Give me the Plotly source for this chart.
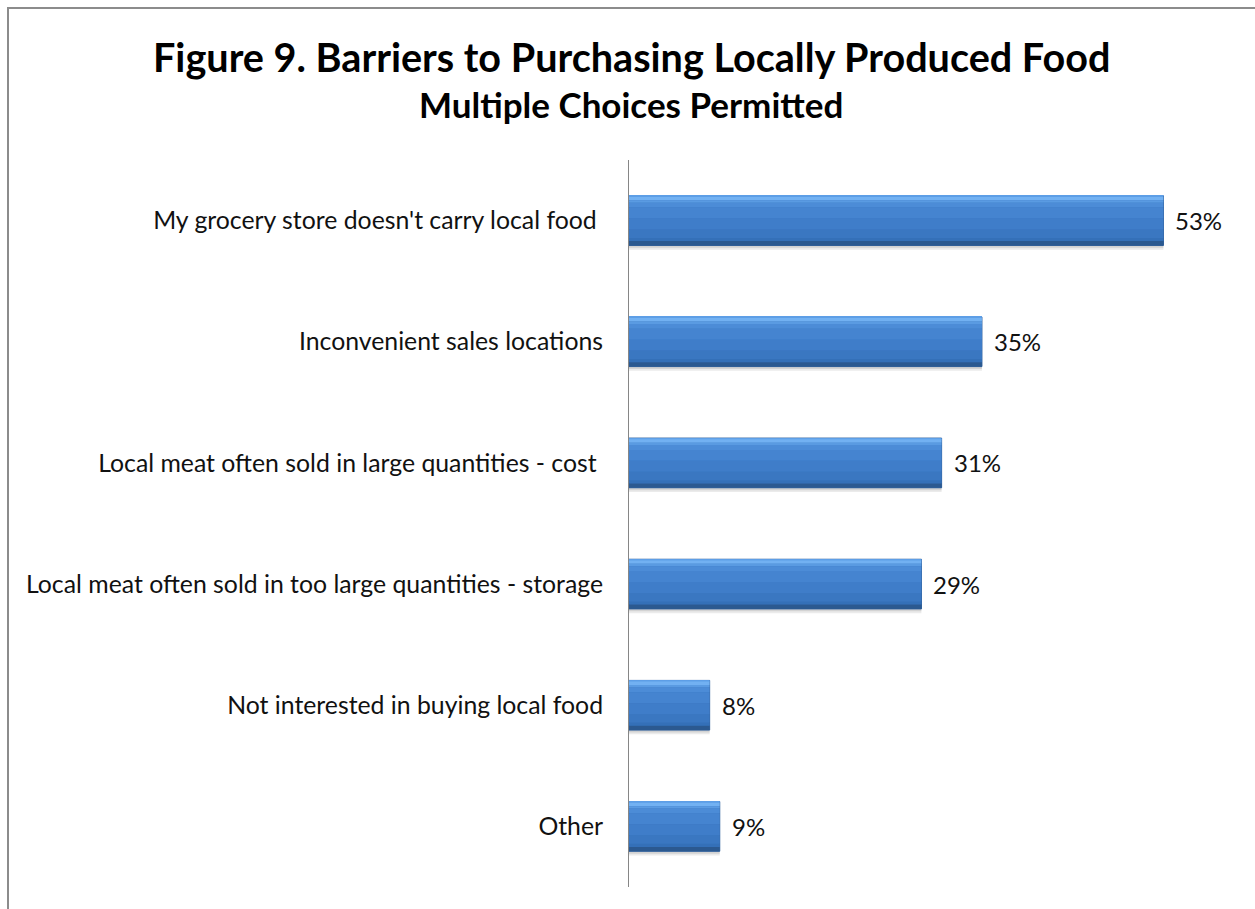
import plotly.graph_objects as go

# Survey responses (percent of respondents, multiple choices permitted)
categories = [
    "My grocery store doesn't carry local food ",
    "Inconvenient sales locations",
    "Local meat often sold in large quantities - cost ",
    "Local meat often sold in too large quantities - storage",
    "Not interested in buying local food",
    "Other",
]
values = [53, 35, 31, 29, 8, 9]
value_labels = ["53%", "35%", "31%", "29%", "8%", "9%"]

FONT = "Lato, 'Open Sans', sans-serif"
BAR_W = 0.41
top = -BAR_W / 2

fig = go.Figure()


def band(offset, width, color, line=None):
    fig.add_trace(go.Bar(
        x=values, y=categories, orientation="h",
        offset=offset, width=width,
        marker=dict(color=color, line=line or dict(width=0)),
        hoverinfo="skip", showlegend=False,
    ))


# soft drop shadow under each bar
band(top + 0.035, BAR_W, "rgba(0,0,0,0.08)")
band(top + 0.02, BAR_W, "rgba(0,0,0,0.10)")
# bar body with a bevelled, glossy look built from stacked bands
band(top, BAR_W, "#3b77c0", dict(color="#2f5f9c", width=1))
bands = [
    (0.000, 0.010, "#5d9ee6"),
    (0.010, 0.028, "#72b1f2"),
    (0.038, 0.020, "#5a9be2"),
    (0.058, 0.040, "#4c8cd7"),
    (0.098, 0.090, "#4584d0"),
    (0.188, 0.090, "#3f7dc9"),
    (0.278, 0.070, "#3a77c1"),
    (0.348, 0.026, "#3470b8"),
    (0.374, 0.036, "#2b5990"),
]
for off, w, c in bands:
    band(top + off, w, c)

for v, cat, lab in zip(values, categories, value_labels):
    fig.add_annotation(
        x=v, y=cat, text=lab, showarrow=False, xanchor="left",
        xshift=10, font=dict(family=FONT, size=24, color="#111111"),
    )

PT, PB, PL, PR = 160, 22, 629, 26
PH = 909 - PT - PB
PW = 1255 - PL - PR

# titles
fig.add_annotation(
    xref="paper", yref="paper",
    x=(631 - PL) / PW, y=(909 - PB - 57) / PH,
    xanchor="center", yanchor="middle", showarrow=False,
    text="<b>Figure 9. Barriers to Purchasing Locally Produced Food</b>",
    font=dict(family=FONT, size=39.6, color="#000000"),
)
fig.add_annotation(
    xref="paper", yref="paper",
    x=(631 - PL) / PW, y=(909 - PB - 104) / PH,
    xanchor="center", yanchor="middle", showarrow=False,
    text="<b>Multiple Choices Permitted</b>",
    font=dict(family=FONT, size=35, color="#000000"),
)

# outer frame
fig.add_shape(
    type="rect", xref="paper", yref="paper",
    x0=(8 - PL) / PW, x1=(1300 - PL) / PW,
    y0=(909 - PB - 960) / PH, y1=(909 - PB - 8) / PH,
    line=dict(color="#8c8c8c", width=2), fillcolor="rgba(0,0,0,0)",
    layer="below",
)

fig.update_layout(
    width=1255, height=909,
    margin=dict(l=PL, r=PR, t=PT, b=PB),
    paper_bgcolor="white", plot_bgcolor="white",
    barmode="overlay",
    xaxis=dict(range=[0, 59.5], visible=False),
    yaxis=dict(
        autorange="reversed", showgrid=False, zeroline=False,
        showline=True, linecolor="#868686", linewidth=1,
        ticks="", ticklabelstandoff=20,
        tickfont=dict(family=FONT, size=24.8, color="#111111"),
    ),
)

fig.write_html("out.html")
